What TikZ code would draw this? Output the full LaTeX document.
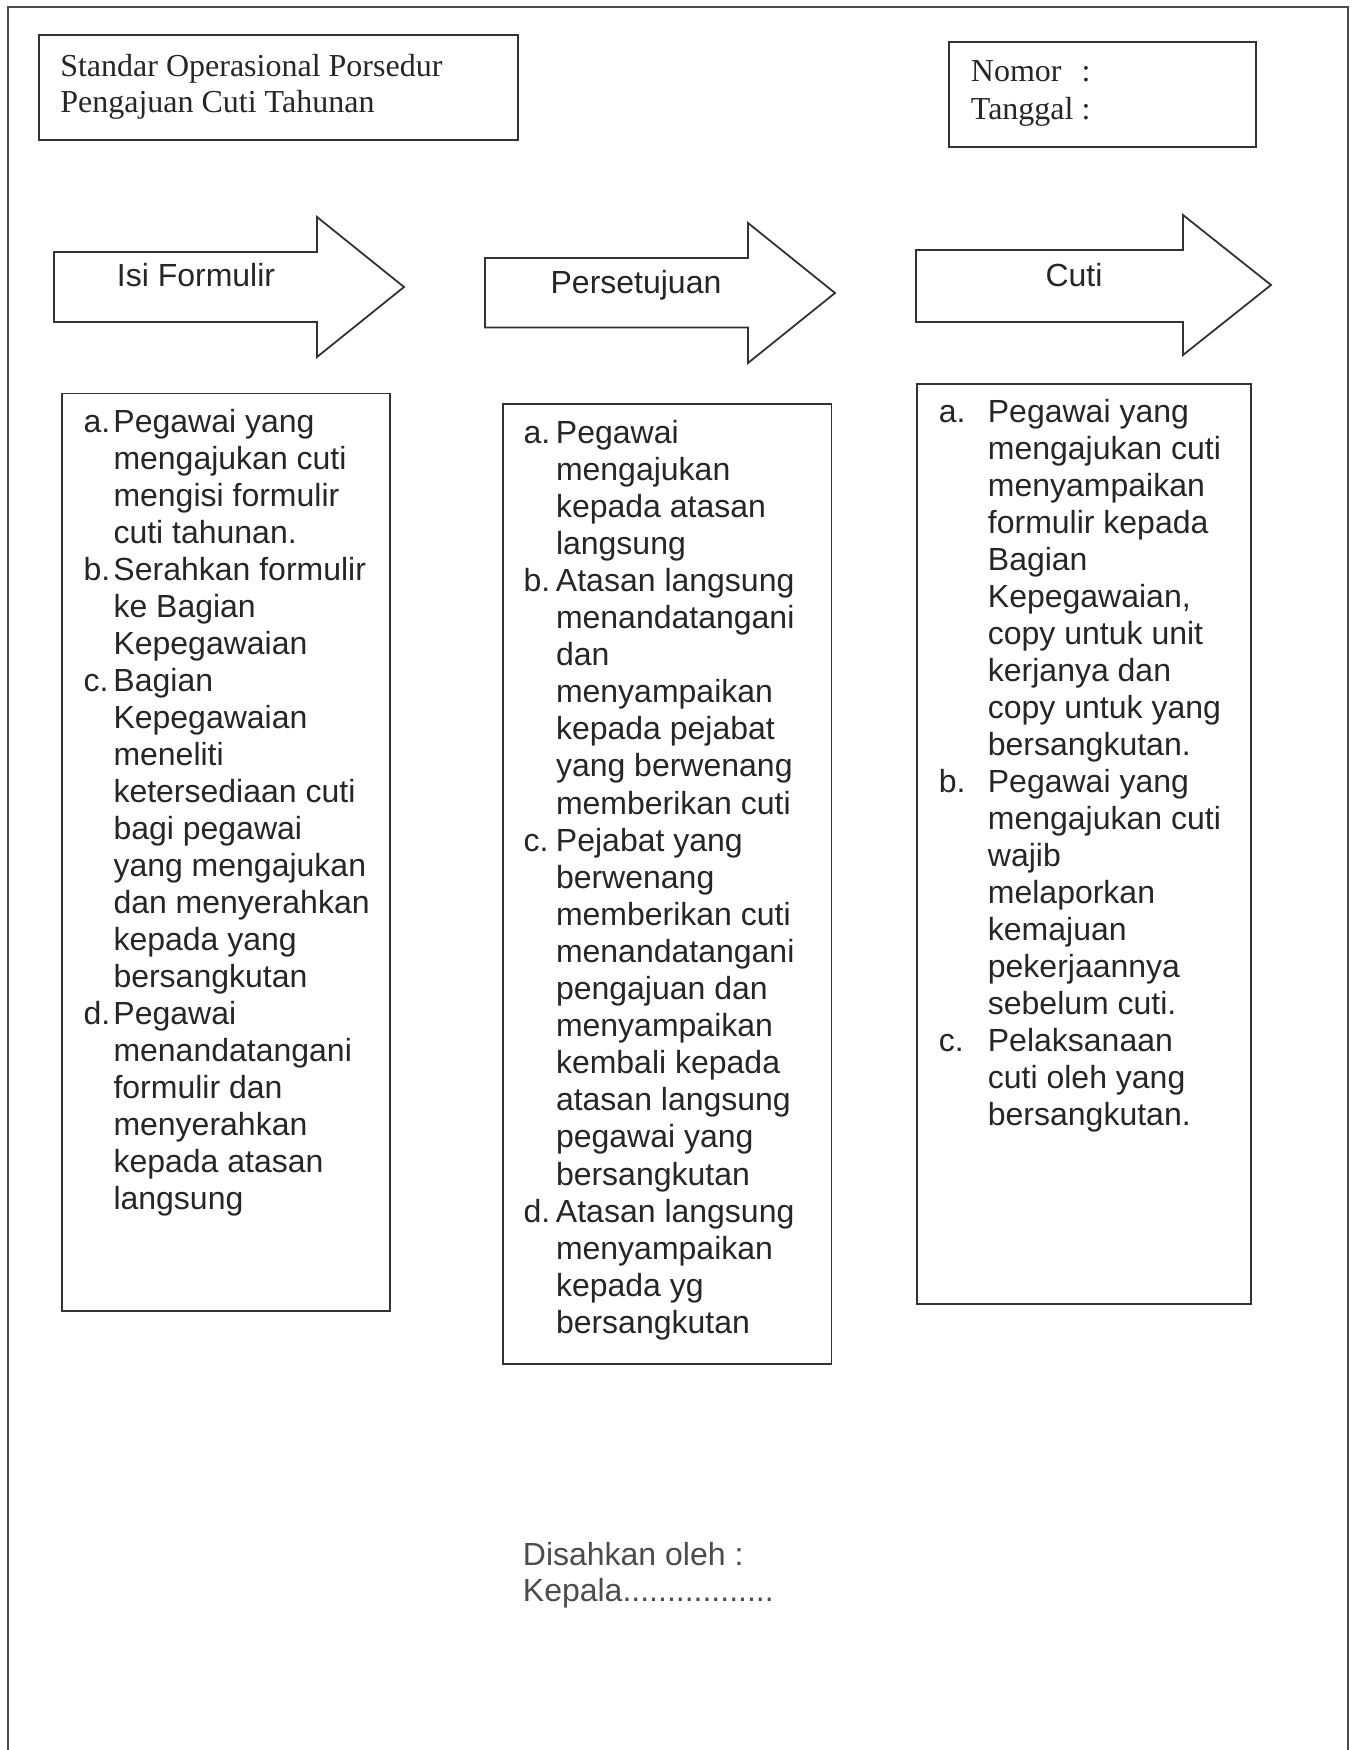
\documentclass[tikz,border=0pt]{standalone}
\usepackage{fontspec}
\setmainfont{Liberation Serif}
\setsansfont{Liberation Sans}
\usetikzlibrary{positioning,calc}

\begin{document}
\begin{tikzpicture}[
    x=0.5pt, y=-0.5pt,
    line width=0.9pt,
    frame/.style={draw=black!70, line width=0.8pt},
    listbox/.style={draw=black!80, rectangle, inner sep=0pt, anchor=north west},
    stage/.style={draw=black!80, fill=white, line join=miter},
    stagetext/.style={inner sep=0pt, anchor=base, text=black!85,
      font=\sffamily\fontsize{16}{18.5}\selectfont},
    steplist/.style={inner sep=0pt, anchor=base west, text=black!85,
      font=\sffamily\fontsize{16}{#1}\selectfont},
    headtext/.style={inner sep=0pt, anchor=base west, text=black!85,
      font=\rmfamily\fontsize{16}{#1}\selectfont}
  ]
  \useasboundingbox (0,0) rectangle (1356,1750);
  \draw[frame] (8,1750) -- (8,7) -- (1348,7) -- (1348,1750);

  % header
  \node[listbox, minimum width=239.5pt, minimum height=52.5pt] (title) at (38,34) {};
  \node[headtext=18.4pt] (titletext) at ($(title.north west)+(21.4,42)$)
    {\begin{tabular}[t]{@{}l@{}}Standar Operasional Porsedur\\Pengajuan Cuti Tahunan\end{tabular}};
  \node[listbox, minimum width=153.5pt, minimum height=52.5pt] (nomor) at (948,41) {};
  \node[headtext=18.8pt] (nomortext) at ($(nomor.north west)+(22,40.7)$)
    {\begin{tabular}[t]{@{}l@{ }l@{}}Nomor & :\\Tanggal & :\end{tabular}};

  % stage arrows
  \draw[stage] (54,252) -- (317,252) -- (317,217) -- (404,287) -- (317,357) -- (317,322) -- (54,322) -- cycle;
  \draw[stage] (485,258) -- (748,258) -- (748,223) -- (835,293) -- (748,363) -- (748,327.5) -- (485,327.5) -- cycle;
  \draw[stage] (916,250) -- (1183,250) -- (1183,215) -- (1271,285) -- (1183,355) -- (1183,322) -- (916,322) -- cycle;
  \node[stagetext] (isi) at (196,286.7) {Isi Formulir};
  \node[stagetext] (setuju) at (636,293) {Persetujuan};
  \node[stagetext] (cuti) at (1074,286) {Cuti};

  % step boxes
  \node[listbox, minimum width=164.15pt, minimum height=458.75pt] (box1) at (60.7,392.5) {};
  \node[listbox, minimum width=164.4pt, minimum height=480.15pt] (box2) at (501.7,402.7) {};
  \node[listbox, minimum width=167pt, minimum height=460pt] (box3) at (916,382.7) {};

  \node[steplist=18.5pt] (list1) at ($(box1.north west)+(21.9,39.5)$)
    {\begin{tabular}[t]{@{}p{15pt}@{}l@{}}
      a. & Pegawai yang\\
         & mengajukan cuti\\
         & mengisi formulir\\
         & cuti tahunan.\\
      b. & Serahkan formulir\\
         & ke Bagian\\
         & Kepegawaian\\
      c. & Bagian\\
         & Kepegawaian\\
         & meneliti\\
         & ketersediaan cuti\\
         & bagi pegawai\\
         & yang mengajukan\\
         & dan menyerahkan\\
         & kepada yang\\
         & bersangkutan\\
      d. & Pegawai\\
         & menandatangani\\
         & formulir dan\\
         & menyerahkan\\
         & kepada atasan\\
         & langsung
    \end{tabular}};

  \node[steplist=18.55pt] (list2) at ($(box2.north west)+(21,40.3)$)
    {\begin{tabular}[t]{@{}p{16.2pt}@{}l@{}}
      a. & Pegawai\\
         & mengajukan\\
         & kepada atasan\\
         & langsung\\
      b. & Atasan langsung\\
         & menandatangani\\
         & dan\\
         & menyampaikan\\
         & kepada pejabat\\
         & yang berwenang\\
         & memberikan cuti\\
      c. & Pejabat yang\\
         & berwenang\\
         & memberikan cuti\\
         & menandatangani\\
         & pengajuan dan\\
         & menyampaikan\\
         & kembali kepada\\
         & atasan langsung\\
         & pegawai yang\\
         & bersangkutan\\
      d. & Atasan langsung\\
         & menyampaikan\\
         & kepada yg\\
         & bersangkutan
    \end{tabular}};

  \node[steplist=18.5pt] (list3) at ($(box3.north west)+(22,40)$)
    {\begin{tabular}[t]{@{}p{24.5pt}@{}l@{}}
      a. & Pegawai yang\\
         & mengajukan cuti\\
         & menyampaikan\\
         & formulir kepada\\
         & Bagian\\
         & Kepegawaian,\\
         & copy untuk unit\\
         & kerjanya dan\\
         & copy untuk yang\\
         & bersangkutan.\\
      b. & Pegawai yang\\
         & mengajukan cuti\\
         & wajib\\
         & melaporkan\\
         & kemajuan\\
         & pekerjaannya\\
         & sebelum cuti.\\
      c. & Pelaksanaan\\
         & cuti oleh yang\\
         & bersangkutan.
    \end{tabular}};

  % approval
  \node[steplist=18.35pt, text=black!70] (sah) at (522,1565)
    {\begin{tabular}[t]{@{}l@{}}Disahkan oleh :\\Kepala.................\end{tabular}};
\end{tikzpicture}
\end{document}
